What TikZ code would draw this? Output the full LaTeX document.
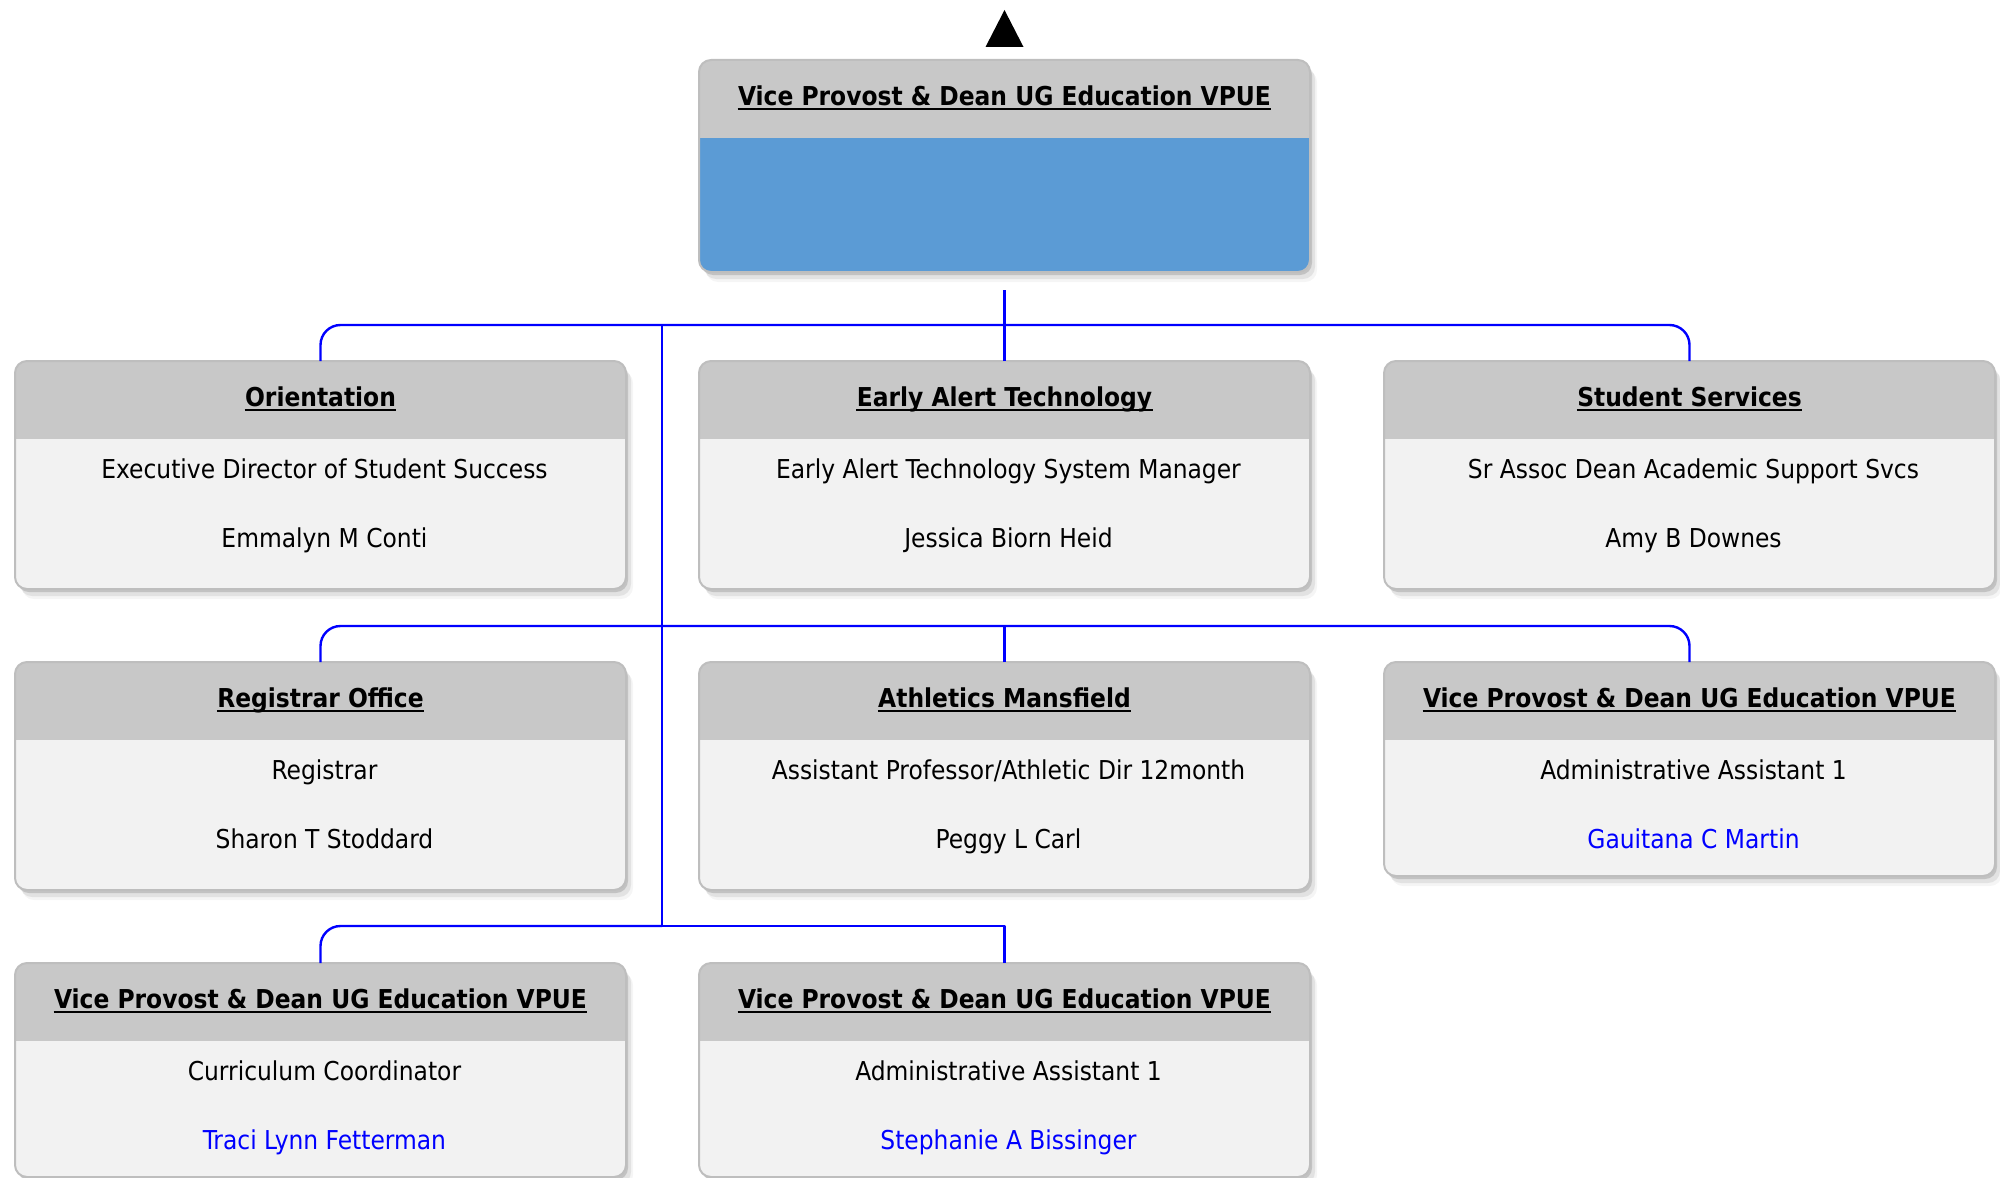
\documentclass[tikz,border=0pt]{standalone}
\usepackage{fontspec}
\setmainfont{DejaVu Sans Condensed}
\usetikzlibrary{shadows}
\definecolor{headgray}{HTML}{C8C8C8}
\definecolor{bodygray}{HTML}{F2F2F2}
\definecolor{linegray}{HTML}{BEBEBE}
\definecolor{topblue}{HTML}{5B9BD5}
\definecolor{linkblue}{HTML}{0000FF}
% name, x, top, height, title, role, person, person colour
\newcommand{\orgbox}[8]{%
  \node[unitbox,minimum height=#4*0.5pt] (#1) at (#2,{#3+#4/2}) {};
  \begin{scope}
    \clip[rounded corners=6pt] (#1.south west) rectangle (#1.north east);
    \fill[headgray] (#1.north west) rectangle ([yshift=-39pt]#1.north east);
  \end{scope}
  \draw[boxline] (#1.south west) rectangle (#1.north east);
  \node[unittitle] (#1-t) at ([yshift=-22.5pt]#1.north) {#5};
  \draw[underbar] ([yshift=-2pt]#1-t.base west) -- ([yshift=-2pt]#1-t.base east);
  \node[unittext] (#1-r) at ([xshift=2pt,yshift=-58.5pt]#1.north) {#6};
  \node[unittext,text=#8] (#1-p) at ([xshift=2pt,yshift=-93pt]#1.north) {#7};
}
\begin{document}
\begin{tikzpicture}[x=0.5pt,y=-0.5pt,line join=round]
  \tikzset{
    unitbox/.style={rectangle,fill=bodygray,minimum width=305.5pt,inner sep=0pt,outer sep=0pt,
      rounded corners=6pt,
      drop shadow={shadow xshift=1pt,shadow yshift=-1.5pt,opacity=.14,fill=black},
      drop shadow={shadow xshift=2.5pt,shadow yshift=-3.5pt,opacity=.08,fill=black},
      drop shadow={shadow xshift=3.5pt,shadow yshift=-5pt,opacity=.04,fill=black}},
    boxline/.style={draw=linegray,line width=1pt,rounded corners=6pt},
    unittitle/.style={anchor=base,inner sep=0pt,font=\fontsize{13}{15}\selectfont\bfseries},
    unittext/.style={anchor=base,inner sep=0pt,font=\fontsize{13}{15}\selectfont},
    underbar/.style={line width=1.1pt},
    link/.style={draw=linkblue,line width=1.2pt,rounded corners=10pt}
  }
  \useasboundingbox (0,0) rectangle (2000,1177);
  % top box
  \node[unitbox,fill=topblue,minimum height=106pt] (vpue) at (1004.5,166) {};
  \begin{scope}
    \clip[rounded corners=6pt] (vpue.south west) rectangle (vpue.north east);
    \fill[headgray] (vpue.north west) rectangle ([yshift=-39pt]vpue.north east);
  \end{scope}
  \draw[boxline] (vpue.south west) rectangle (vpue.north east);
  \node[unittitle] (vpue-t) at ([yshift=-22.5pt]vpue.north) {Vice Provost \& Dean UG Education VPUE};
  \draw[underbar] ([yshift=-2pt]vpue-t.base west) -- ([yshift=-2pt]vpue-t.base east);
  \fill ([yshift=6.5pt]vpue.north) ++(-19,0) -- ++(38,0) -- ++(-19,-37) -- cycle;
  % first row
  \orgbox{orient}{320.5}{361}{228}{Orientation}{Executive Director of Student Success}{Emmalyn M Conti}{black}
  \orgbox{alert}{1004.5}{361}{228}{Early Alert Technology}{Early Alert Technology System Manager}{Jessica Biorn Heid}{black}
  \orgbox{stud}{1689.5}{361}{228}{Student Services}{Sr Assoc Dean Academic Support Svcs}{Amy B Downes}{black}
  % second row
  \orgbox{reg}{320.5}{662}{228}{Registrar Office}{Registrar}{Sharon T Stoddard}{black}
  \orgbox{ath}{1004.5}{662}{228}{Athletics Mansfield}{Assistant Professor/Athletic Dir 12month}{Peggy L Carl}{black}
  \orgbox{adma}{1689.5}{662}{214}{Vice Provost \& Dean UG Education VPUE}{Administrative Assistant 1}{Gauitana C Martin}{linkblue}
  % third row
  \orgbox{curr}{320.5}{963}{214}{Vice Provost \& Dean UG Education VPUE}{Curriculum Coordinator}{Traci Lynn Fetterman}{linkblue}
  \orgbox{admb}{1004.5}{963}{214}{Vice Provost \& Dean UG Education VPUE}{Administrative Assistant 1}{Stephanie A Bissinger}{linkblue}
  % connectors
  \coordinate (bus1) at (662,325);
  \coordinate (bus2) at (662,626);
  \coordinate (bus3) at (662,926);
  \draw[link] ([yshift=-9pt]vpue.south) -- (alert.north);
  \draw[link] (orient.north) -- (orient.north |- bus1) -- (stud.north |- bus1) -- (stud.north);
  \draw[link] (bus1) -- (bus3);
  \draw[link] (reg.north) -- (reg.north |- bus2) -- (adma.north |- bus2) -- (adma.north);
  \draw[link] (ath.north) -- (ath.north |- bus2);
  \draw[link] (curr.north) -- (curr.north |- bus3) -- (bus3);
  \draw[link,sharp corners] (bus3) -- (admb.north |- bus3) -- (admb.north);
\end{tikzpicture}
\end{document}
